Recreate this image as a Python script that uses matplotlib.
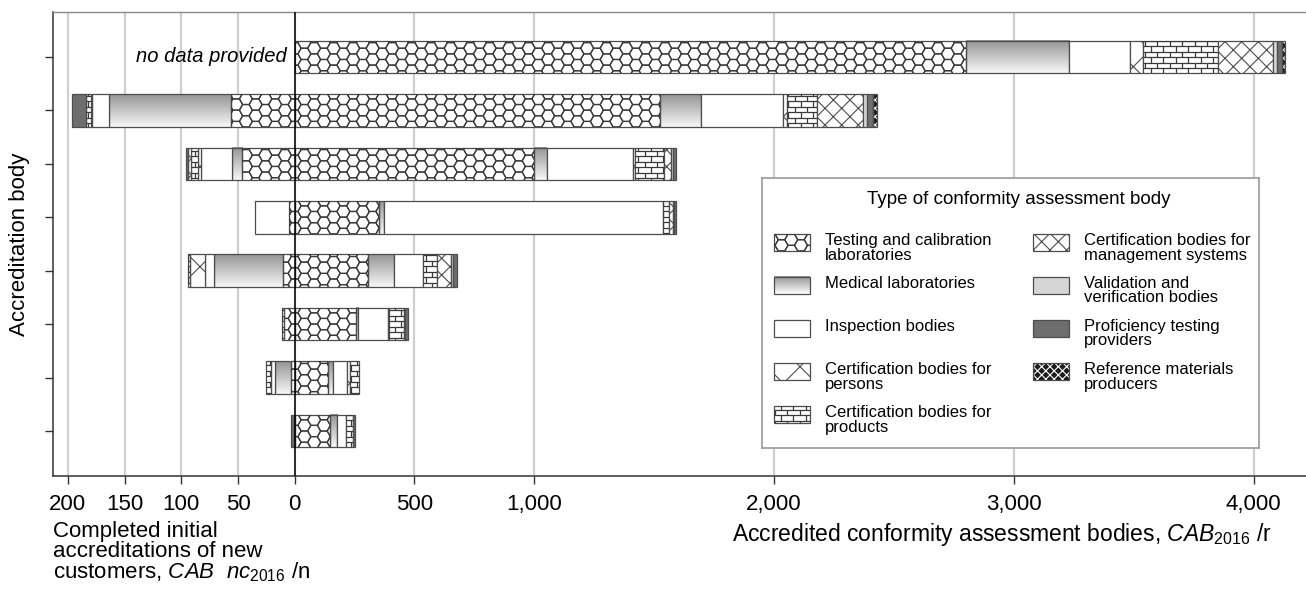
import numpy as np
import matplotlib
matplotlib.use('Agg')
import matplotlib.pyplot as plt
from matplotlib.patches import Rectangle
from matplotlib.collections import LineCollection

plt.rcParams['font.family'] = ['Liberation Sans', 'DejaVu Sans']
plt.rcParams['mathtext.fontset'] = 'custom'
plt.rcParams['mathtext.rm'] = 'Liberation Sans'
plt.rcParams['mathtext.it'] = 'Liberation Sans:italic'
plt.rcParams['hatch.linewidth'] = 0.8

categories = ['Testing and calibration\nlaboratories', 'Medical laboratories',
              'Inspection bodies', 'Certification bodies for\npersons',
              'Certification bodies for\nproducts',
              'Certification bodies for\nmanagement systems',
              'Validation and\nverification bodies',
              'Proficiency testing\nproviders', 'Reference materials\nproducers']

# accredited bodies 2016, one value per accreditation body (top to bottom)
r_testing = [2800, 1524, 1000, 353, 308, 256, 141, 148]
r_medical = [432, 170, 52, 20, 108, 10, 18, 30]
r_inspection = [253, 345, 358, 1165, 121, 125, 61, 36]
r_persons = [56, 17, 8, 0, 0, 3, 12, 0]
r_products = [312, 122, 124, 25, 56, 64, 38, 31]
r_management = [227, 192, 30, 15, 58, 0, 0, 0]
r_validation = [17, 17, 8, 5, 8, 4, 0, 0]
r_proficiency = [21, 25, 11, 8, 17, 12, 0, 5]
r_reference = [12, 19, 0, 0, 0, 0, 0, 0]

# completed initial accreditations of new customers 2016 (first body: no data)
n_testing = [0, 56, 46, 5, 10, 9, 3, 1]
n_medical = [0, 108, 9, 0, 61, 0, 14, 0]
n_inspection = [0, 15, 28, 30, 8, 0, 4, 0]
n_persons = [0, 1, 2, 0, 13, 0, 0, 0]
n_products = [0, 4, 6, 0, 2, 2, 4, 0]
n_management = [0, 0, 3, 0, 0, 0, 0, 0]
n_validation = [0, 0, 0, 0, 0, 0, 0, 0]
n_proficiency = [0, 12, 2, 0, 0, 0, 0, 2]
n_reference = [0, 0, 0, 0, 0, 0, 0, 0]

r_values = [r_testing, r_medical, r_inspection, r_persons, r_products,
            r_management, r_validation, r_proficiency, r_reference]
n_values = [n_testing, n_medical, n_inspection, n_persons, n_products,
            n_management, n_validation, n_proficiency, n_reference]
styles = ['hex', 'grad', 'white', 'persons', 'brick', 'mgmt', 'light', 'dark', 'ref']

left_ticks = [200, 150, 100, 50, 0]
right_ticks = [500, 1000, 2000, 3000, 4000]
k = 4.73  # left side stretch relative to the right scale

edge = '#4d4d4d'


def hex_lines(x0, x1, y0, y1, sx, sy, s=6.5):
    # flat-top honeycomb on a grid anchored at the origin, built in pixels
    px0, px1 = sorted((x0 * sx, x1 * sx))
    py0, py1 = sorted((y0 * sy, y1 * sy))
    dx, dy = 1.5 * s, np.sqrt(3) * s
    ang = np.deg2rad(np.arange(0, 361, 60))
    vx, vy = s * np.cos(ang), s * np.sin(ang)
    segs = []
    for i in range(int(np.floor(px0 / dx)) - 1, int(np.ceil(px1 / dx)) + 2):
        off = dy / 2 if i % 2 else 0
        for j in range(int(np.floor(py0 / dy)) - 1, int(np.ceil(py1 / dy)) + 2):
            cx, cy = i * dx, j * dy + off
            segs.append(np.column_stack([(cx + vx) / sx, (cy + vy) / sy]))
    return segs


def brick_lines(x0, x1, y0, y1, sx, sy, bw=12.5, bh=5.5):
    px0, px1 = sorted((x0 * sx, x1 * sx))
    py0, py1 = sorted((y0 * sy, y1 * sy))
    segs = []
    for j in range(int(np.floor(py0 / bh)) - 1, int(np.ceil(py1 / bh)) + 1):
        y = j * bh
        segs.append([(px0 / sx, y / sy), (px1 / sx, y / sy)])
        off = bw / 2 if j % 2 else 0
        for i in range(int(np.floor((px0 - off) / bw)) - 1, int(np.ceil((px1 - off) / bw)) + 1):
            x = i * bw + off
            segs.append([(x / sx, y / sy), (x / sx, (y + bh) / sy)])
    return segs


def draw_segment(ax, style, x0, x1, yc, h, sx, sy, z=2):
    y0 = yc - h / 2
    face = {'white': 'white', 'hex': 'white', 'brick': 'white', 'persons': 'white',
            'mgmt': 'white', 'light': '#d6d6d6', 'dark': '#6e6e6e', 'grad': 'none',
            'ref': '#1c1c1c'}[style]
    if style == 'grad':
        grad = np.linspace(0.58, 0.97, 60).reshape(-1, 1)
        ax.imshow(grad, extent=[min(x0, x1), max(x0, x1), y0, y0 + h], cmap='gray',
                  vmin=0, vmax=1, aspect='auto', origin='upper',
                  interpolation='bilinear', zorder=z)
    if style == 'ref':
        ax.add_patch(Rectangle((x0, y0), x1 - x0, h, facecolor=face, edgecolor='white',
                               hatch='xxxx', lw=0, zorder=z))
        face = 'none'
    hatch = {'persons': 'x', 'mgmt': 'xx'}.get(style)
    rect = Rectangle((x0, y0), x1 - x0, h, facecolor=face, edgecolor=edge,
                     lw=0.9, hatch=hatch, zorder=z + 0.1)
    ax.add_patch(rect)
    if style in ('hex', 'brick'):
        fn = hex_lines if style == 'hex' else brick_lines
        lc = LineCollection(fn(x0, x1, y0, y0 + h, sx, sy), colors='#3a3a3a',
                            linewidths=0.9, zorder=z + 0.2)
        ax.add_collection(lc)
        lc.set_clip_path(rect)


W, H = 1306, 592
fig = plt.figure(figsize=(W / 100, H / 100), dpi=100)
ax_left, ax_bottom, ax_top = 53, 476, 12
ax = fig.add_axes([ax_left / W, 1 - ax_bottom / H, 1 - ax_left / W, (ax_bottom - ax_top) / H])

xmin, xmax = -1008, 4219
ymin, ymax = -0.842, 7.842
sx = (W - ax_left) / (xmax - xmin)
sy = (ax_bottom - ax_top) / (ymax - ymin)

bar_h = 0.61
n_rows = len(r_testing)
for row in range(n_rows):
    yc = n_rows - 1 - row
    cum = 0
    for vals, st in zip(r_values, styles):
        v = vals[row]
        if v > 0:
            draw_segment(ax, st, cum, cum + v, yc, bar_h, sx, sy)
        cum += v
    cum = 0
    for vals, st in zip(n_values, styles):
        v = vals[row]
        if v > 0:
            draw_segment(ax, st, -k * cum, -k * (cum + v), yc, bar_h, sx, sy)
        cum += v

ax.text(-8 / sx, n_rows - 1, 'no data provided', ha='right', va='center',
        style='italic', fontsize=14.5)

ax.axvline(0, color='black', lw=1.1, zorder=6)
ax.set_xlim(xmin, xmax)
ax.set_ylim(ymin, ymax)

xt = [-k * t for t in left_ticks] + right_ticks
xl = [str(t) for t in left_ticks] + [f'{t:,}' for t in right_ticks]
ax.set_xticks(xt)
ax.set_xticklabels(xl, fontsize=16)
ax.set_yticks(range(n_rows))
ax.set_yticklabels([])
ax.tick_params(axis='both', direction='out', length=6, width=1, color='#333333')
ax.tick_params(axis='x', pad=7)
ax.grid(axis='x', color='#cfcfcf', lw=1.6, zorder=0)
ax.set_axisbelow(True)
ax.spines['right'].set_visible(False)
for sp in ('left', 'bottom'):
    ax.spines[sp].set_color('#333333')
    ax.spines[sp].set_linewidth(1.1)
ax.spines['top'].set_color('#8a8a8a')
ax.spines['top'].set_linewidth(1.0)

fig.text(20 / W, 1 - 244 / H, 'Accreditation body', rotation=90, ha='center',
         va='center', fontsize=16)
fig.text(53 / W, 1 - 521 / H,
         'Completed initial\naccreditations of new\ncustomers, $\\mathit{CAB\\ \\ nc}_{\\mathit{2016}}$ /n',
         ha='left', va='top', fontsize=16, linespacing=0.92)
fig.text(732 / W, 1 - 521 / H,
         'Accredited conformity assessment bodies, $\\mathit{CAB}_{\\mathit{2016}}$ /r',
         ha='left', va='top', fontsize=16.5)

# legend box
lx0, lx1, ly0, ly1 = 762, 1259, 178, 448
lax = fig.add_axes([lx0 / W, 1 - ly1 / H, (lx1 - lx0) / W, (ly1 - ly0) / H])
lax.set_zorder(10)
lw_, lh_ = lx1 - lx0, ly1 - ly0
lax.set_xlim(0, lw_)
lax.set_ylim(0, lh_)
lax.set_xticks([])
lax.set_yticks([])
for sp in lax.spines.values():
    sp.set_color('#9a9a9a')
    sp.set_linewidth(1.2)
lax.text(lw_ / 2 + 8, lh_ - 22, 'Type of conformity assessment body', ha='center',
         va='center', fontsize=13.5)

row_y = [205.5, 163, 120, 76.5, 33.5]
col_x = [12, 271]
for idx, (lab, st) in enumerate(zip(categories, styles)):
    col, r = (0, idx) if idx < 5 else (1, idx - 5)
    hx, hy = col_x[col], row_y[r]
    draw_segment(lax, st, hx, hx + 36, hy, 17, 1, 1)
    lax.text(hx + 51, hy + 9.5, lab, ha='left', va='top', fontsize=12,
             linespacing=1.0)

fig.savefig('out.png', dpi=100)
